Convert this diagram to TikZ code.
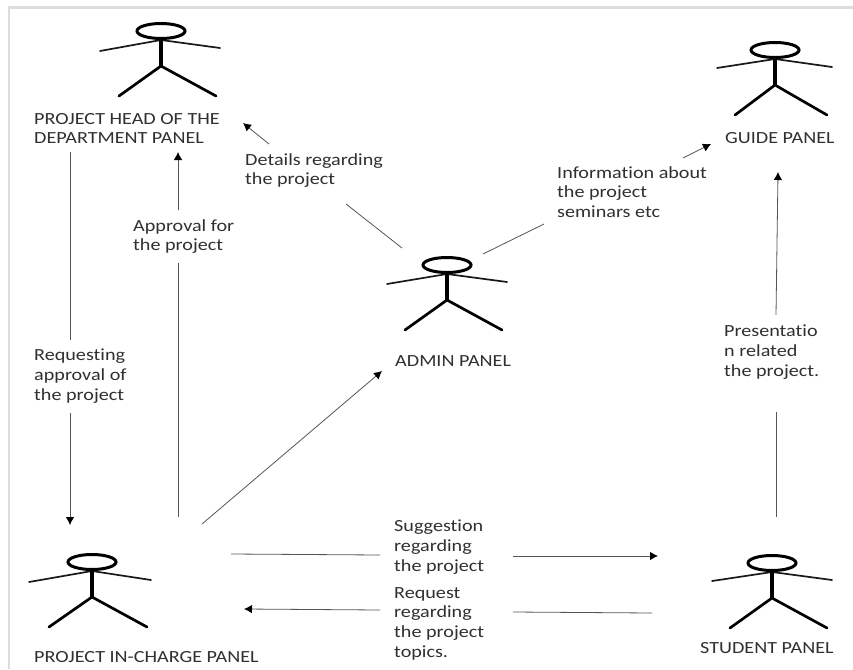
\documentclass[tikz,border=0pt]{standalone}
\usepackage{fontspec}
\setmainfont[FakeStretch=1.185,Ligatures={NoCommon}]{Carlito}
\usetikzlibrary{arrows.meta}
\definecolor{framegray}{HTML}{DCDCDC}
\definecolor{linegray}{HTML}{555555}
\definecolor{txt}{HTML}{303030}
\tikzset{
  lbl/.style={anchor=north west,inner sep=0pt,align=left,text=txt,font=\fontsize{17}{19.7}\selectfont},
  conn/.style={draw=linegray,line width=0.8pt},
  arr/.style={conn,-{Latex[length=8pt,width=8.5pt,color=black]}},
  stick/.style={draw=black,line width=2.7pt,line cap=round},
  limb/.style={draw=black!90,line width=1.7pt,line cap=round},
  body/.style={draw=black,line width=3.2pt}
}
\newcommand{\actorfig}[8]{% x y leftarmx leftarmy rightarmx rightarmy leftleg rightleg
  \begin{scope}[shift={(#1,#2)}]
    \draw[limb] (#3,#4) -- (0,9) -- (#5,#6);
    \draw[body] (0,8) -- (0,35);
    \draw[stick] (#7,65) -- (0,35) -- (#8,65);
    \draw[draw=black,line width=3pt] (0,0) ellipse [x radius=24,y radius=7.5];
  \end{scope}
}
\begin{document}
\begin{tikzpicture}[x=1pt,y=-1pt]
\useasboundingbox (0,0) rectangle (853,669);
\fill[white] (0,0) rectangle (853,669);
\draw[framegray,line width=2.5pt] (9,669) -- (9,7.5) -- (853,7.5);

\actorfig{161}{31}{-61}{20}{59}{17}{-42}{55}
\actorfig{775}{50}{-58}{18}{57}{17}{-40}{52}
\actorfig{447}{265}{-60}{19}{60}{17}{-42}{55}
\actorfig{92}{562}{-63}{20}{59}{18}{-43}{55}
\actorfig{772}{563}{-60}{18}{60}{17}{-42}{55}

\node[lbl] (head) at (34,113) {PROJECT HEAD OF THE\\DEPARTMENT PANEL};
\node[lbl] (guide) at (725,132) {GUIDE PANEL};
\node[lbl] (admin) at (395,355) {ADMIN PANEL};
\node[lbl] (student) at (700,642) {STUDENT PANEL};
\node[lbl] (incharge) at (34,651) {PROJECT IN-CHARGE PANEL};
\node[lbl] (details) at (245,153) {Details regarding\\the project};
\node[lbl] (approval) at (133,219) {Approval for\\the project};
\node[lbl] (requesting) at (34,349) {Requesting\\approval of\\the project};
\node[lbl] (info) at (557,166) {Information about\\the project\\seminars etc};
\node[lbl] (present) at (724,325) {Presentatio\\n related\\the project.};
\node[lbl] (suggest) at (394,520) {Suggestion\\regarding\\the project};
\node[lbl] (request) at (394,587) {Request\\regarding\\the project\\topics.};

\coordinate (a1) at (70,152);  \coordinate (a2) at (70,340);
\coordinate (a3) at (70,413);  \coordinate (a4) at (70,525);
\coordinate (b1) at (178,517); \coordinate (b2) at (178,263);
\coordinate (b3) at (178,210); \coordinate (b4) at (178,152);
\coordinate (c1) at (402,248); \coordinate (c2) at (346,204);
\coordinate (c3) at (269,144); \coordinate (c4) at (243,123);
\coordinate (d1) at (483,254); \coordinate (d2) at (544,224);
\coordinate (d3) at (683,158); \coordinate (d4) at (711,144);
\coordinate (e1) at (776,517); \coordinate (e2) at (776,412);
\coordinate (e3) at (776,315); \coordinate (e4) at (778,172);
\coordinate (f1) at (202,524); \coordinate (f2) at (382,371);
\coordinate (g1) at (231,554); \coordinate (g2) at (380,555);
\coordinate (g3) at (513,556); \coordinate (g4) at (658,556);
\coordinate (h1) at (652,613); \coordinate (h2) at (513,612);
\coordinate (h3) at (380,610); \coordinate (h4) at (244,609);

\draw[conn] (a1) -- (a2); \draw[arr] (a3) -- (a4);
\draw[conn] (b1) -- (b2); \draw[arr] (b3) -- (b4);
\draw[conn] (c1) -- (c2); \draw[arr] (c3) -- (c4);
\draw[conn] (d1) -- (d2); \draw[arr] (d3) -- (d4);
\draw[conn] (e1) -- (e2); \draw[arr] (e3) -- (e4);
\draw[arr] (f1) -- (f2);
\draw[conn] (g1) -- (g2); \draw[arr] (g3) -- (g4);
\draw[conn] (h1) -- (h2); \draw[arr] (h3) -- (h4);
\end{tikzpicture}
\end{document}
